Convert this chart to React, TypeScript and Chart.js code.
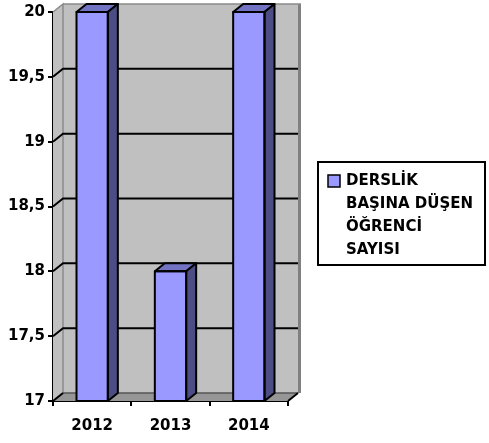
import React, { useEffect, useRef } from "react";
import { Chart, registerables } from "chart.js";

Chart.register(...registerables);

const categories = ["2012", "2013", "2014"];
const seriesLabel = ["DERSLİK", "BAŞINA DÜŞEN", "ÖĞRENCİ", "SAYISI"];
const seriesValues = [20, 18, 20];
const yMin = 17;
const yMax = 20;
const yStep = 0.5;

const FONT = "'DejaVu Sans', sans-serif";
const DX = 10;
const DY = -8;

const threeD = {
  id: "threeD",
  beforeDatasetsDraw(chart: any) {
    const { ctx, chartArea } = chart;
    const { left, right, top, bottom } = chartArea;
    const y = chart.scales.y;
    ctx.save();
    // back wall
    ctx.fillStyle = "#C0C0C0";
    ctx.fillRect(left + DX, top + DY, right - left, bottom - top);
    // right edge band of back wall
    ctx.fillStyle = "#808080";
    ctx.fillRect(right + DX, top + DY, 3, bottom - top);
    ctx.strokeStyle = "#8a8a8a";
    ctx.lineWidth = 1.5;
    ctx.beginPath();
    ctx.moveTo(left + DX, top + DY);
    ctx.lineTo(right + DX + 3, top + DY);
    ctx.stroke();
    // side wall
    ctx.fillStyle = "#C0C0C0";
    ctx.beginPath();
    ctx.moveTo(left, top);
    ctx.lineTo(left + DX, top + DY);
    ctx.lineTo(left + DX, bottom + DY);
    ctx.lineTo(left, bottom);
    ctx.closePath();
    ctx.fill();
    ctx.strokeStyle = "#8a8a8a";
    ctx.lineWidth = 1.5;
    ctx.beginPath();
    ctx.moveTo(left, top);
    ctx.lineTo(left + DX, top + DY);
    ctx.lineTo(left + DX, bottom + DY);
    ctx.stroke();
    // floor
    ctx.fillStyle = "#969696";
    ctx.beginPath();
    ctx.moveTo(left, bottom);
    ctx.lineTo(right, bottom);
    ctx.lineTo(right + DX, bottom + DY);
    ctx.lineTo(left + DX, bottom + DY);
    ctx.closePath();
    ctx.fill();
    ctx.strokeStyle = "#555";
    ctx.lineWidth = 1.5;
    ctx.beginPath();
    ctx.moveTo(left + DX, bottom + DY);
    ctx.lineTo(right + DX, bottom + DY);
    ctx.stroke();
    // gridlines
    ctx.strokeStyle = "#000";
    ctx.lineWidth = 2;
    y.ticks.forEach((t: any) => {
      if (t.value <= yMin || t.value >= yMax) return;
      const py = y.getPixelForValue(t.value);
      ctx.beginPath();
      ctx.moveTo(left, py);
      ctx.lineTo(left + DX, py + DY);
      ctx.lineTo(right + DX, py + DY);
      ctx.stroke();
    });
    // bottom left & right diagonals
    ctx.beginPath();
    ctx.moveTo(left, bottom);
    ctx.lineTo(left + DX, bottom + DY);
    ctx.moveTo(right, bottom);
    ctx.lineTo(right + DX, bottom + DY);
    ctx.stroke();
    ctx.restore();
  },
  afterDatasetsDraw(chart: any) {
    const { ctx, chartArea } = chart;
    const meta = chart.getDatasetMeta(0);
    ctx.save();
    ctx.lineWidth = 2;
    ctx.strokeStyle = "#000";
    ctx.lineJoin = "round";
    meta.data.forEach((bar: any) => {
      const p = bar.getProps(["x", "y", "base", "width"], true);
      const { x, y, width } = p;
      const base = Math.min(p.base, chartArea.bottom);
      const l = x - width / 2;
      const r = x + width / 2;
      // top face
      ctx.fillStyle = "#7373C4";
      ctx.beginPath();
      ctx.moveTo(l, y);
      ctx.lineTo(l + DX, y + DY);
      ctx.lineTo(r + DX, y + DY);
      ctx.lineTo(r, y);
      ctx.closePath();
      ctx.fill();
      ctx.stroke();
      // side face
      ctx.fillStyle = "#4D4D85";
      ctx.beginPath();
      ctx.moveTo(r, y);
      ctx.lineTo(r + DX, y + DY);
      ctx.lineTo(r + DX, base + DY);
      ctx.lineTo(r, base);
      ctx.closePath();
      ctx.fill();
      ctx.stroke();
      // front face outline
      ctx.strokeRect(l, y, width, base - y);
    });
    ctx.restore();
  },
  afterDraw(chart: any) {
    const { ctx } = chart;
    ctx.save();
    ctx.fillStyle = "#fff";
    ctx.fillRect(318, 162, 167, 103);
    ctx.strokeStyle = "#000";
    ctx.lineWidth = 2;
    ctx.strokeRect(318, 162, 167, 103);
    ctx.fillStyle = "#9999FF";
    ctx.fillRect(328, 175, 12, 12);
    ctx.lineWidth = 1.5;
    ctx.strokeRect(328, 175, 12, 12);
    ctx.fillStyle = "#000";
    ctx.font = `bold 15px ${FONT}`;
    ctx.textBaseline = "middle";
    ctx.textAlign = "left";
    seriesLabel.forEach((line, i) => {
      ctx.fillText(line, 346, 181.5 + i * 23);
    });
    ctx.restore();
  },
};

export default function App() {
  const ref = useRef<HTMLCanvasElement>(null);
  useEffect(() => {
    if (!ref.current) return;
    const font = { family: FONT, size: 15, weight: "bold" as const };
    const chart = new Chart(ref.current, {
      type: "bar",
      data: {
        labels: categories,
        datasets: [
          {
            label: seriesLabel.join(" "),
            data: seriesValues,
            backgroundColor: "#9999FF",
            borderColor: "#000",
            borderWidth: 0,
            barPercentage: 0.4,
            categoryPercentage: 1,
          },
        ],
      },
      options: {
        responsive: false,
        animation: false,
        layout: { padding: { left: 0, top: 11, right: 201, bottom: 0 } },
        plugins: { legend: { display: false }, tooltip: { enabled: false } },
        scales: {
          x: {
            afterFit: (s: any) => {
              s.height = 42;
            },
            grid: { drawOnChartArea: false, drawTicks: true, tickLength: 5, color: "#000", lineWidth: 2 },
            border: { display: true, color: "#000", width: 2 },
            ticks: { color: "#000", font, padding: 11 },
          },
          y: {
            min: yMin,
            max: yMax,
            afterFit: (s: any) => {
              s.width = 53;
            },
            grid: { drawOnChartArea: false, drawTicks: true, tickLength: 5, color: "#000", lineWidth: 2 },
            border: { display: true, color: "#000", width: 2 },
            ticks: {
              stepSize: yStep,
              color: "#000",
              font,
              padding: 3,
              callback: (v: any) => String(v).replace(".", ","),
            },
          },
        },
      },
      plugins: [threeD],
    });
    return () => chart.destroy();
  }, []);
  return (
    <div style={{ position: "fixed", left: 0, top: 0, width: 489, height: 443, background: "#fff" }}>
      <canvas ref={ref} width={489} height={443} />
    </div>
  );
}
